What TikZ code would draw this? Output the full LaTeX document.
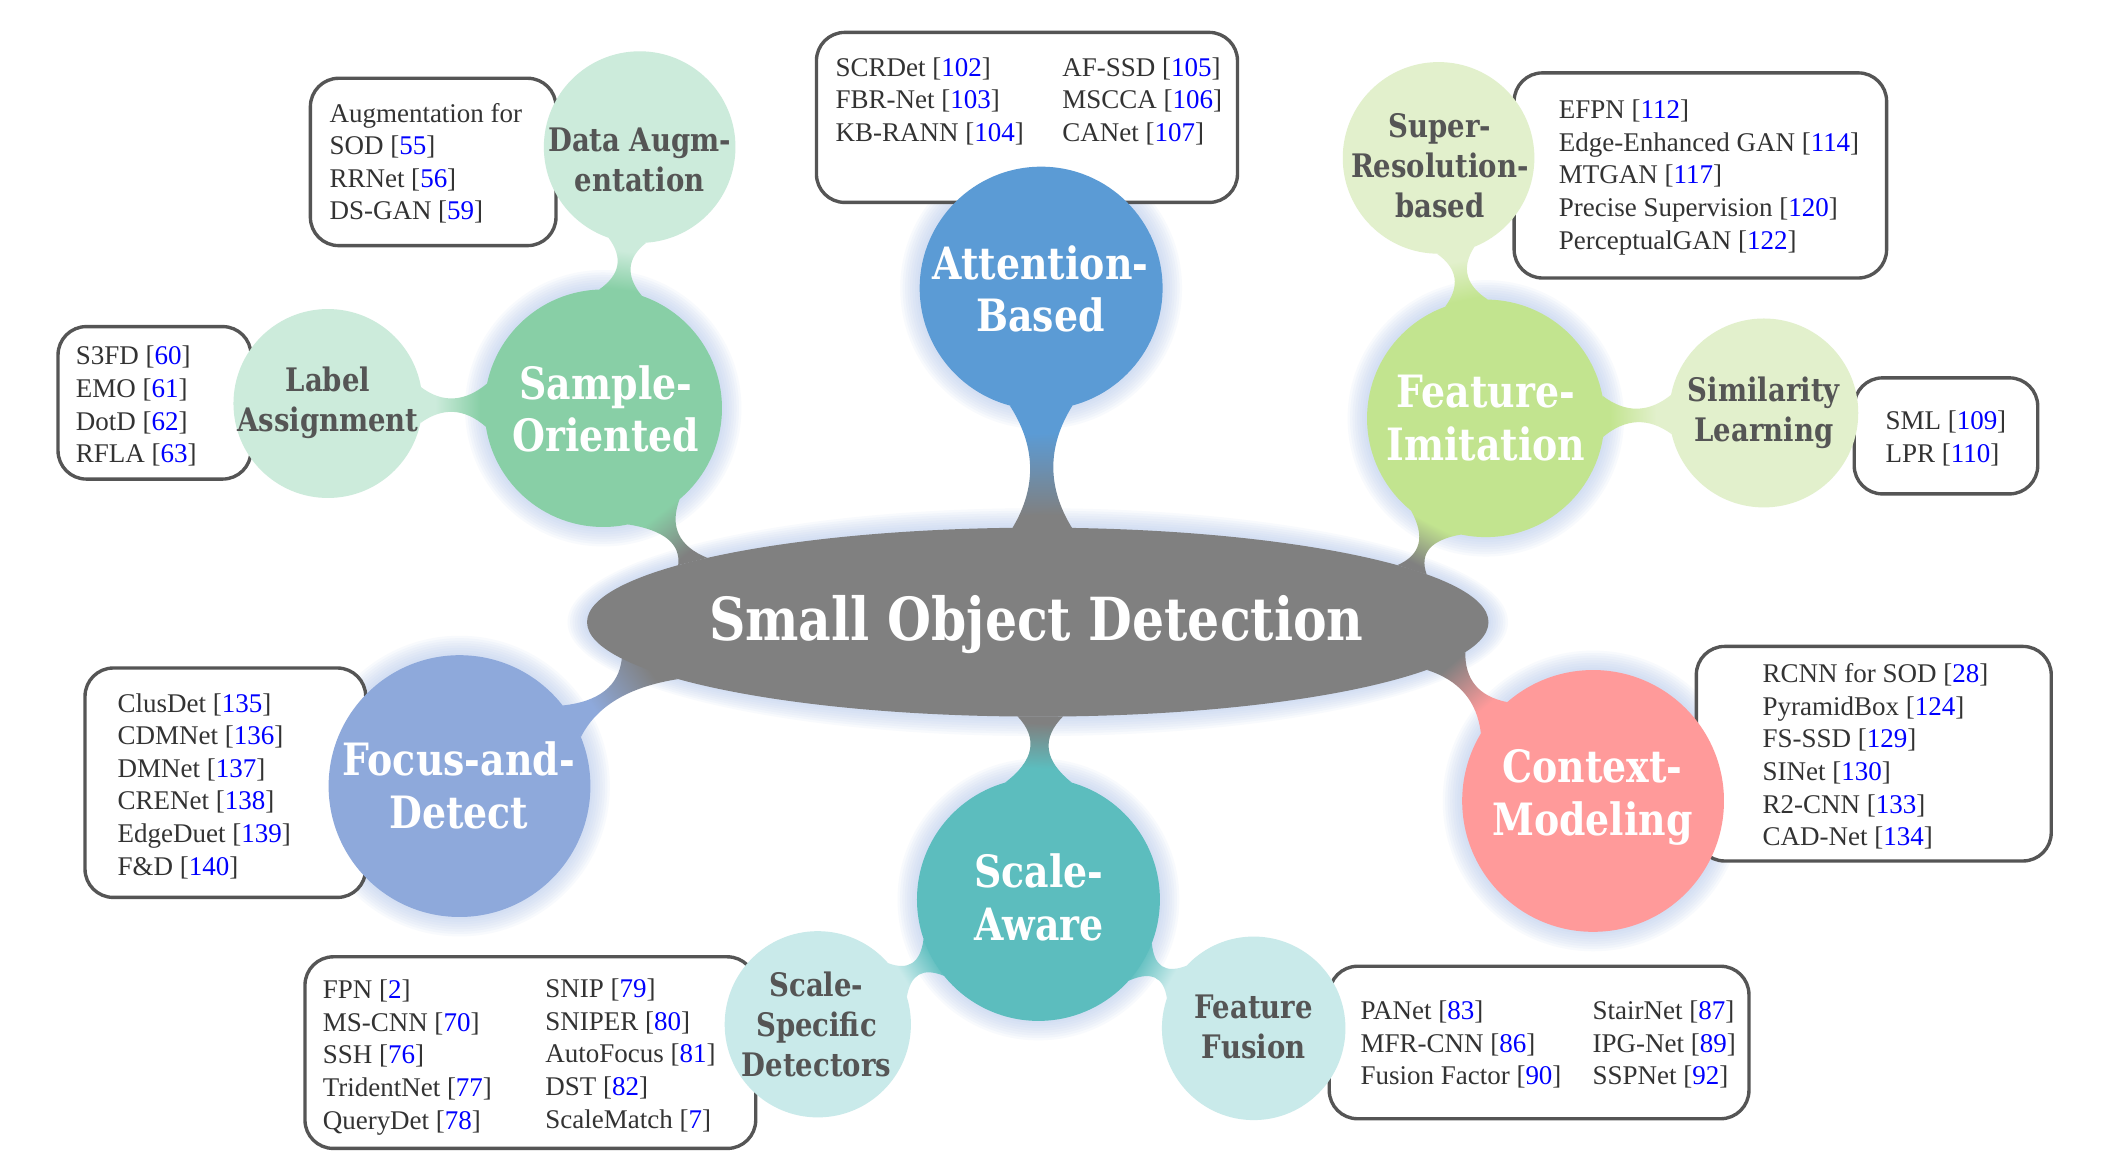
\documentclass[tikz,border=0pt]{standalone}
\usepackage{fontspec}
\setmainfont{Liberation Serif}
\newfontfamily\headfont{DejaVu Serif}[UprightFont=* Bold, FakeStretch=0.85]
\usetikzlibrary{shapes.geometric,calc}

\definecolor{cCenter}{HTML}{808080}
\definecolor{cAtt}{HTML}{5B9BD5}
\definecolor{cSO}{HTML}{88CFA6}
\definecolor{cFI}{HTML}{C2E48F}
\definecolor{cCM}{HTML}{FF9A9A}
\definecolor{cSA}{HTML}{5CBDBE}
\definecolor{cFD}{HTML}{8EA9DB}
\definecolor{cDA}{HTML}{CCEBDB}
\definecolor{cLA}{HTML}{CCEBDB}
\definecolor{cSR}{HTML}{E2F0CC}
\definecolor{cSL}{HTML}{E2F0CC}
\definecolor{cSSD}{HTML}{C9EAEA}
\definecolor{cFF}{HTML}{C9EAEA}
\definecolor{boxline}{HTML}{555555}
\definecolor{listtext}{HTML}{333333}
\definecolor{subtext}{HTML}{555555}
\definecolor{refblue}{HTML}{0000FF}
\definecolor{haloC}{HTML}{B4C8EC}
\colorlet{stemA}{cAtt}
\colorlet{stemB}{cCenter}

\newcommand\refnum[1]{\textcolor{refblue}{#1}}

% colour blend along a stem, kept solid near both ends
\pgfdeclareverticalshading[stemA,stemB]{stemshade}{100bp}{color(0bp)=(stemA); color(36bp)=(stemA); color(70bp)=(stemB); color(100bp)=(stemB)}

\pgfdeclarelayer{bg}
\pgfdeclarelayer{halo}
\pgfdeclarelayer{boxes}
\pgfdeclarelayer{stems}
\pgfsetlayers{bg,halo,boxes,stems,main}

\tikzset{
  hub/.style={circle, fill=#1, draw=none, inner sep=0pt, outer sep=0pt},
  hubtext/.style={inner sep=0pt, align=center, text=white, font=\headfont\fontsize{33}{39}\selectfont},
  leaftext/.style={inner sep=0pt, align=center, text=subtext, font=\headfont\fontsize{24}{29.5}\selectfont},
  listbox/.style={draw=boxline, line width=2.5pt, rounded corners=21pt, fill=white, inner sep=0pt},
  listtext/.style={inner sep=0pt, anchor=west, align=left, text=listtext, font=\fontsize{20}{24.2}\selectfont},
  glow/.style={fill=haloC, opacity=0.09},
}

\begin{document}
\begin{tikzpicture}[x=1pt,y=-1pt]
\useasboundingbox (0,0) rectangle (1568,868);
\begin{pgfonlayer}{bg}
  \fill[white] (0,0) rectangle (1568,868);
\end{pgfonlayer}

% ---- centre ----
\node[ellipse, fill=cCenter, inner sep=0pt, outer sep=0pt, minimum width=668pt, minimum height=140pt] (sod) at (769,461) {};
\node[inner sep=0pt, text=white, font=\headfont\fontsize{44}{50}\selectfont] (sodt) at (768,463) {Small Object Detection};

% ---- main branches ----
\node[hub=cAtt, minimum size=180pt] (att) at (771.5,213.5) {};
\node[hub=cSO,  minimum size=176pt] (so)  at (447,302.5) {};
\node[hub=cFI,  minimum size=176pt] (fi)  at (1101,310) {};
\node[hub=cCM,  minimum size=194pt] (cm)  at (1180.5,593.5) {};
\node[hub=cSA,  minimum size=180pt] (sa)  at (769.5,666.5) {};
\node[hub=cFD,  minimum size=194pt] (fd)  at (340.5,582.5) {};

\node[hubtext] (att-t) at (771,214) {Attention-\\Based};
\node[hubtext] (so-t)  at (449,303) {Sample-\\Oriented};
\node[hubtext] (fi-t)  at (1101,310) {Feature-\\Imitation};
\node[hubtext] (cm-t)  at (1180,591) {Context-\\Modeling};
\node[hubtext] (sa-t)  at (770,665) {Scale-\\Aware};
\node[hubtext] (fd-t)  at (340,582) {Focus-and-\\Detect};

% ---- sub branches ----
\node[hub=cDA,  minimum size=142pt] (da)  at (474,109) {};
\node[hub=cLA,  minimum size=140pt] (la)  at (243,299) {};
\node[hub=cSR,  minimum size=142pt] (sr)  at (1066,117) {};
\node[hub=cSL,  minimum size=140pt] (sl)  at (1307,306) {};
\node[hub=cSSD, minimum size=138pt] (ssd) at (606,759) {};
\node[hub=cFF,  minimum size=136pt] (ff)  at (929,762) {};

\node[leaftext] (da-t)  at (474,118.5) {Data Augm-\\entation};
\node[leaftext] (la-t)  at (243,298.5) {Label\\Assignment};
\node[leaftext] (sr-t)  at (1067,123) {Super-\\Resolution-\\based};
\node[leaftext] (sl-t)  at (1307,306) {Similarity\\Learning};
\node[leaftext] (ssd-t) at (605,759) {Scale-\\Specific\\Detectors};
\node[leaftext] (ff-t)  at (929,761) {Feature\\Fusion};

% ---- soft glow round the hubs ----
\begin{pgfonlayer}{halo}
  \foreach \nd/\r in {att/90, so/88, fi/88, cm/97, sa/90, fd/97}
    \foreach \k in {1,...,8}
      \fill[glow] (\nd.center) circle[radius={(\r+1.8*\k)*1pt}];
  \foreach \k in {1,...,8}
    \fill[glow] (sod.center) ellipse[x radius={(334+1.8*\k)*1pt}, y radius={(70+1.8*\k)*1pt}];
\end{pgfonlayer}

% ---- reference boxes ----
\begin{pgfonlayer}{boxes}
  \node[listbox, minimum width=182pt, minimum height=124pt] (bDA) at (321,120) {};
  \node[listbox, minimum width=143pt, minimum height=113pt] (bLA) at (114.5,298.5) {};
  \node[listbox, minimum width=312pt, minimum height=126pt] (bAT) at (761,87) {};
  \node[listbox, minimum width=276pt, minimum height=152pt] (bSR) at (1260,130) {};
  \node[listbox, minimum width=136pt, minimum height=86pt]  (bSL) at (1442,323) {};
  \node[listbox, minimum width=263pt, minimum height=159pt] (bCM) at (1388.5,558.5) {};
  \node[listbox, minimum width=208pt, minimum height=170pt] (bFD) at (167,580) {};
  \node[listbox, minimum width=334pt, minimum height=142pt] (bSS) at (393,780) {};
  \node[listbox, minimum width=311pt, minimum height=113pt] (bFF) at (1140.5,772.5) {};

  \node[listtext] (tDA) at (244,121) {Augmentation for\\SOD [\refnum{55}]\\RRNet [\refnum{56}]\\DS-GAN [\refnum{59}]};
  \node[listtext] (tLA) at (56,301) {S3FD [\refnum{60}]\\EMO [\refnum{61}]\\DotD [\refnum{62}]\\RFLA [\refnum{63}]};
  \node[listtext] (tAT1) at (619,75) {SCRDet [\refnum{102}]\\FBR-Net [\refnum{103}]\\KB-RANN [\refnum{104}]};
  \node[listtext] (tAT2) at (787,75) {AF-SSD [\refnum{105}]\\MSCCA [\refnum{106}]\\CANet [\refnum{107}]};
  \node[listtext] (tSR) at (1155,131.5) {EFPN [\refnum{112}]\\Edge-Enhanced GAN [\refnum{114}]\\MTGAN [\refnum{117}]\\Precise Supervision [\refnum{120}]\\PerceptualGAN [\refnum{122}]};
  \node[listtext] (tSL) at (1397,325) {SML [\refnum{109}]\\LPR [\refnum{110}]};
  \node[listtext] (tCM) at (1306,560.5) {RCNN for SOD [\refnum{28}]\\PyramidBox [\refnum{124}]\\FS-SSD [\refnum{129}]\\SINet [\refnum{130}]\\R2-CNN [\refnum{133}]\\CAD-Net [\refnum{134}]};
  \node[listtext] (tFD) at (87,582.5) {ClusDet [\refnum{135}]\\CDMNet [\refnum{136}]\\DMNet [\refnum{137}]\\CRENet [\refnum{138}]\\EdgeDuet [\refnum{139}]\\F\&D [\refnum{140}]};
  \node[listtext] (tSS1) at (239,783.5) {FPN [\refnum{2}]\\MS-CNN [\refnum{70}]\\SSH [\refnum{76}]\\TridentNet [\refnum{77}]\\QueryDet [\refnum{78}]};
  \node[listtext] (tSS2) at (404,782) {SNIP [\refnum{79}]\\SNIPER [\refnum{80}]\\AutoFocus [\refnum{81}]\\DST [\refnum{82}]\\ScaleMatch [\refnum{7}]};
  \node[listtext] (tFF1) at (1008,774) {PANet [\refnum{83}]\\MFR-CNN [\refnum{86}]\\Fusion Factor [\refnum{90}]};
  \node[listtext] (tFF2) at (1180,774) {StairNet [\refnum{87}]\\IPG-Net [\refnum{89}]\\SSPNet [\refnum{92}]};
\end{pgfonlayer}

% ---- necked stems: two flare points on each bubble, pinched in between ----
\begin{pgfonlayer}{stems}
\foreach \pa/\pb/\qa/\qb/\nw/\ca/\cb in {
    att.-75/att.-105/sod.70/sod.105.3/8.6/cAtt/cCenter,
    so.-78.8/so.-50.6/sod.171.9/sod.169.6/4.5/cSO/cCenter,
    fi.-129.2/fi.-102.3/sod.9.35/sod.7.16/4.5/cFI/cCenter,
    cm.149.9/cm.131.6/sod.-7.56/sod.-4.64/5/cCM/cCenter,
    sa.74/sa.106/sod.-75.6/sod.-102.9/7/cSA/cCenter,
    fd.38/fd.22.3/sod.-175.4/sod.-171.6/5.5/cFD/cCenter,
    da.-86.5/da.-109.3/so.71.6/so.92.6/5/cDA/cSO,
    la.10.5/la.-12.5/so.168.5/so.189.5/5/cLA/cSO,
    sr.-68.3/sr.-91.1/fi.89.8/fi.110.8/5/cSR/cFI,
    sl.-167.4/sl.169.6/fi.-9.4/fi.11.6/5/cSL/cFI,
    ssd.41.2/ssd.17.8/sa.199.3/sa.219.7/5/cSSD/cSA,
    ff.161/ff.137.2/sa.318.9/sa.339.3/5/cFF/cSA}
{
  \coordinate (A1) at (\pa);
  \coordinate (A2) at (\pb);
  \coordinate (B1) at (\qa);
  \coordinate (B2) at (\qb);
  \coordinate (mA) at ($(A1)!.5!(A2)$);
  \coordinate (mB) at ($(B1)!.5!(B2)$);
  \coordinate (M)  at ($(mA)!.5!(mB)$);
  \coordinate (N1) at ($(M)!\nw pt!($(A1)!.5!(B1)$)$);
  \coordinate (N2) at ($(M)!\nw pt!($(A2)!.5!(B2)$)$);
  \coordinate (C1) at ($2*(N1)-0.5*(A1)-0.5*(B1)$);
  \coordinate (C2) at ($2*(N2)-0.5*(A2)-0.5*(B2)$);
  \pgfpointanchor{mA}{center}\pgfgetlastxy{\xa}{\ya}
  \pgfpointanchor{mB}{center}\pgfgetlastxy{\xb}{\yb}
  \pgfmathsetmacro\sang{atan2((\yb)-(\ya),(\xb)-(\xa))-90}
  \colorlet{stemA}{\ca}
  \colorlet{stemB}{\cb}
  \shade[shading=stemshade, shading angle=\sang]
    (A1) .. controls ($(A1)!2/3!(C1)$) and ($(B1)!2/3!(C1)$) .. (B1)
    -- (B2) .. controls ($(B2)!2/3!(C2)$) and ($(A2)!2/3!(C2)$) .. (A2)
    -- cycle;
}
\end{pgfonlayer}
\end{tikzpicture}
\end{document}
